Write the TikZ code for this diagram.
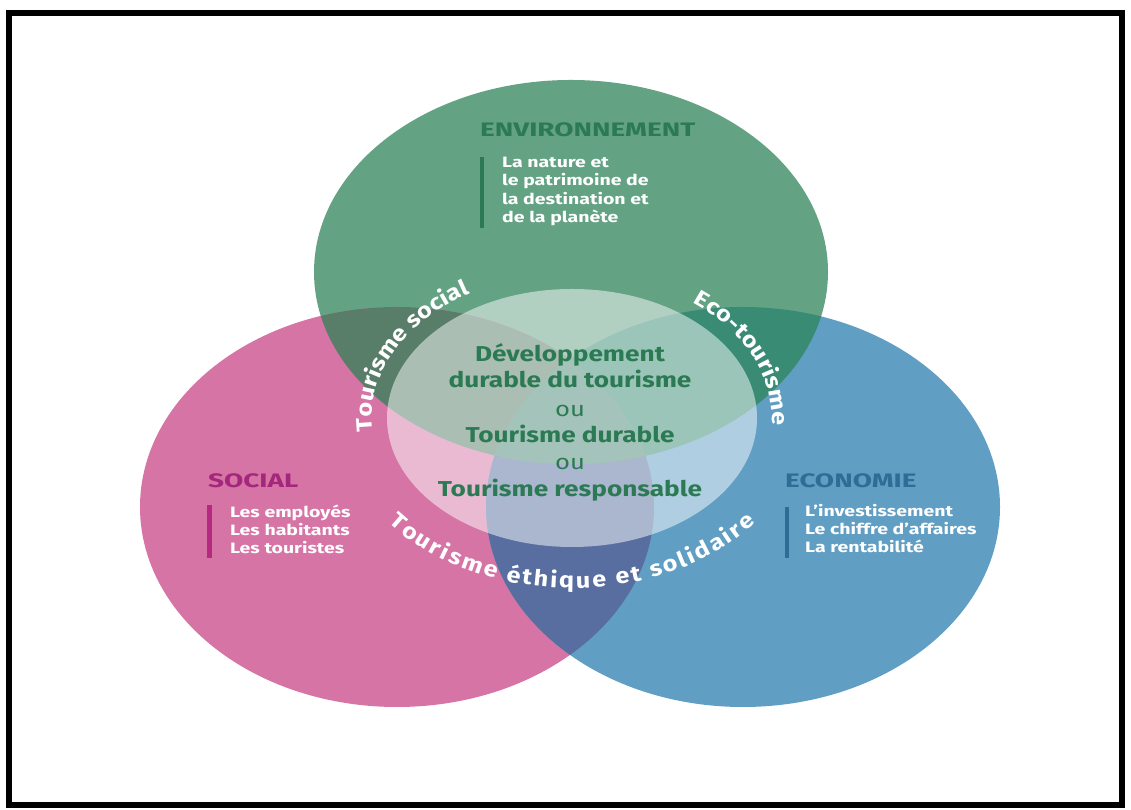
\documentclass[tikz,border=0pt]{standalone}
\usepackage{fontspec}
\setmainfont{Fira Sans}[FakeStretch=1.28]
\newfontfamily\titlefam{Fira Sans}[FakeStretch=1.43]
\newfontfamily\bodyfam{Fira Sans}[FakeStretch=1.3]
\newfontfamily\centerfam{Fira Sans}[FakeStretch=1.22]
\newfontfamily\curvefam{Fira Sans}[FakeStretch=1.15]
\usetikzlibrary{decorations.text}
\definecolor{cgreen}{HTML}{64A284}
\definecolor{cpink}{HTML}{D674A6}
\definecolor{cblue}{HTML}{609EC4}
\definecolor{cgp}{HTML}{587D68}
\definecolor{cgb}{HTML}{3A8B73}
\definecolor{cpb}{HTML}{586EA0}
\definecolor{ctri}{HTML}{4A8878}
\definecolor{tgreen}{HTML}{2B7A53}
\definecolor{tpink}{HTML}{A3287B}
\definecolor{bpink}{HTML}{B52A80}
\definecolor{tblue}{HTML}{2E6E96}
\newcommand\curvefont{\curvefam\fontsize{22}{22}\selectfont\bfseries}
\tikzset{
  title/.style={font=\titlefam\fontsize{19.5}{20}\selectfont\bfseries, anchor=base west, inner sep=0pt},
  body/.style={font=\bodyfam\fontsize{15}{15}\selectfont\bfseries, text=white, anchor=base west, inner sep=0pt},
  ctext/.style={font=\centerfam\fontsize{21.5}{22}\selectfont\bfseries, text=tgreen, anchor=base, inner sep=0pt},
  orword/.style={font=\centerfam\fontsize{21}{22}\selectfont, text=tgreen, anchor=base, inner sep=0pt},
  bar/.style={line width=4pt},
  curved/.style={decorate, decoration={text along path, text align=center, text color=white, text={|\curvefont|#1}}},
  curvedfit/.style={decorate, decoration={text along path, text align=fit to path, text color=white, text={|\curvefont|#1}}}
}
\begin{document}
\begin{tikzpicture}[x=1pt,y=1pt]
\useasboundingbox (0,0) rectangle (1131,810);
\fill[white] (0,0) rectangle (1131,810);
% circles
\fill[cgreen] (571,538) ellipse [x radius=257, y radius=192];
\fill[cpink] (397,303) ellipse [x radius=257, y radius=200];
\fill[cblue] (743,303) ellipse [x radius=257, y radius=200];
\begin{scope}
  \clip (397,303) ellipse [x radius=257, y radius=200];
  \fill[cpb] (743,303) ellipse [x radius=257, y radius=200];
\end{scope}
\begin{scope}
  \clip (571,538) ellipse [x radius=257, y radius=192];
  \fill[cgp] (397,303) ellipse [x radius=257, y radius=200];
  \fill[cgb] (743,303) ellipse [x radius=257, y radius=200];
  \clip (397,303) ellipse [x radius=257, y radius=200];
  \fill[ctri] (743,303) ellipse [x radius=257, y radius=200];
\end{scope}
\fill[white, opacity=0.5] (572,392) ellipse [x radius=185, y radius=129];
% frame
\draw[line width=6pt] (9,5) rectangle (1122,797);
% environnement
\node[title, text=tgreen] (envt) at (480,673) {ENVIRONNEMENT};
\draw[bar, tgreen] (481.5,653) -- (481.5,582);
\node[body] (env1) at (502,642) {La nature et};
\node[body] (env2) at (502,624) {le patrimoine de};
\node[body] (env3) at (502,605.5) {la destination et};
\node[body] (env4) at (502,587) {de la planète};
% social
\node[title, text=tpink] (soct) at (208,322) {SOCIAL};
\draw[bar, bpink, line width=5pt] (209.5,305) -- (209.5,252);
\node[body] (soc1) at (230,292) {Les employés};
\node[body] (soc2) at (230,274) {Les habitants};
\node[body] (soc3) at (230,256) {Les touristes};
% economie
\node[title, text=tblue] (ecot) at (785,322) {ECONOMIE};
\draw[bar, tblue] (787,303) -- (787,252);
\node[body] (eco1) at (805,293) {L’investissement};
\node[body] (eco2) at (805,275) {Le chiffre d’affaires};
\node[body] (eco3) at (805,257) {La rentabilité};
% centre
\node[ctext] (c1) at (570,448) {Développement};
\node[ctext] (c2) at (570,422) {durable du tourisme};
\node[orword] (c3) at (570,393) {ou};
\node[ctext] (c4) at (570,367) {Tourisme durable};
\node[orword] (c5) at (570,340) {ou};
\node[ctext] (c6) at (570,313) {Tourisme responsable};
% curved labels
\path[curved={Tourisme social}] (572,392) ++(190:200 and 145)
  arc[start angle=190, end angle=117, x radius=200, y radius=145];
\path[curved={Eco-tourisme}] (572,392) ++(60:200 and 145)
  arc[start angle=60, end angle=-12, x radius=200, y radius=145];
\path[curvedfit={Tourisme éthique et solidaire}] (572,392) ++(218:233 and 170)
  arc[start angle=218, end angle=322, x radius=233, y radius=170];
\end{tikzpicture}
\end{document}
